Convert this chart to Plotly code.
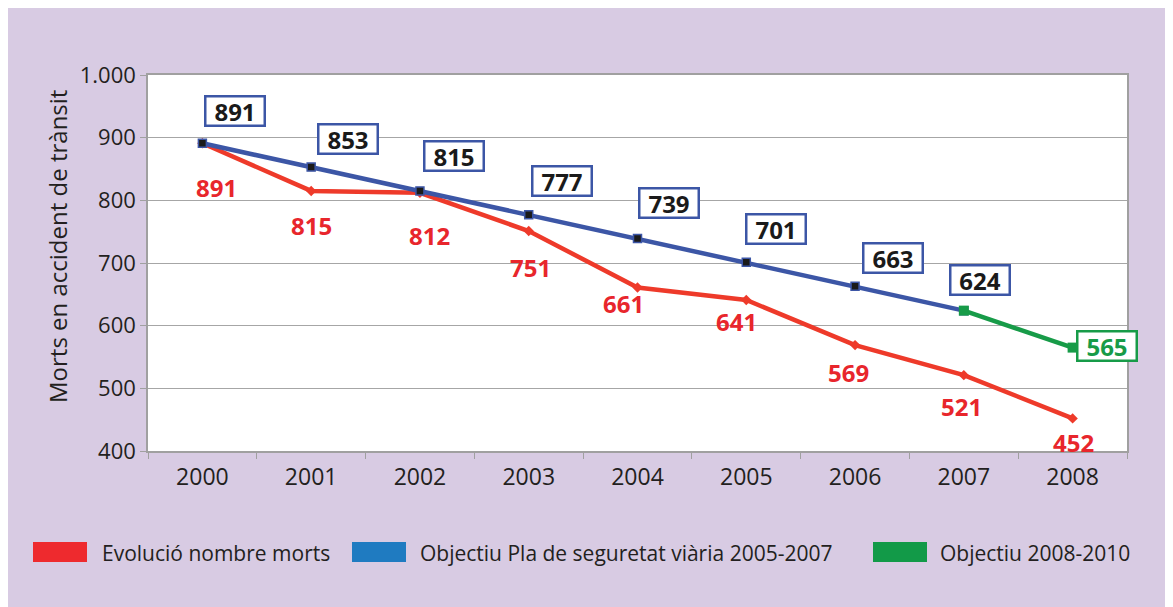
import plotly.graph_objects as go

# ---------------- data ----------------
years = ["2000", "2001", "2002", "2003", "2004", "2005", "2006", "2007", "2008"]
morts = [891, 815, 812, 751, 661, 641, 569, 521, 452]
obj_years = ["2000", "2001", "2002", "2003", "2004", "2005", "2006", "2007"]
objectiu_pla = [891, 853, 815, 777, 739, 701, 663, 624]
obj2_years = ["2007", "2008"]
objectiu_2010 = [624, 565]
y_ticks = [400, 500, 600, 700, 800, 900, 1000]
y_tick_labels = ["400", "500", "600", "700", "800", "900", "1.000"]
legend_names = ["Evolució nombre morts", "Objectiu Pla de seguretat viària 2005-2007", "Objectiu 2008-2010"]
y_title = "Morts en accident de trànsit"

# ---------------- styles ----------------
PURPLE = "#d8cbe3"
RED_LINE = "#ee3a2a"
RED_TXT = "#e8262c"
BLUE = "#3c56a6"
GREEN = "#179b48"
LEG_COLORS = ["#ee2a2e", "#1f7bc1", "#129a48"]
TXT = "#231f20"
FONT = "Open Sans"

# label offsets in pixels (dx, dy) relative to the point; dy positive = up
red_off = [(14, -44), (0, -35), (10, -43), (2, -36), (-14, -16), (-10, -22), (-7, -27), (-2, -31), (1, -24)]
blue_off = [(33, 32), (37, 28), (34, 35), (33, 34), (31, 36), (30, 33), (38, 28), (16, 31)]
green_off = [(34, 2)]

W, H = 1173, 607
L, R, T, B = 140, 1119, 67, 443   # plot area in figure pixels

fig = go.Figure()
fig.add_trace(go.Scatter(x=years, y=morts, mode="lines+markers", name=legend_names[0],
                         line=dict(color=RED_LINE, width=4.5),
                         marker=dict(symbol="diamond", size=8, color=RED_LINE),
                         showlegend=False, hoverinfo="x+y"))
fig.add_trace(go.Scatter(x=obj_years, y=objectiu_pla, mode="lines+markers", name=legend_names[1],
                         line=dict(color=BLUE, width=4.5),
                         marker=dict(symbol="square", size=8, color="#1a1a1a", line=dict(color=BLUE, width=1.5)),
                         showlegend=False, hoverinfo="x+y"))
fig.add_trace(go.Scatter(x=obj2_years, y=objectiu_2010, mode="lines+markers", name=legend_names[2],
                         line=dict(color=GREEN, width=4.5),
                         marker=dict(symbol="square", size=10, color=GREEN),
                         showlegend=False, hoverinfo="x+y"))

BOX = dict(width=57, height=27, borderwidth=2.5, borderpad=0, bgcolor="white")

ann = []
for i, (x, v) in enumerate(zip(years, morts)):
    dx, dy = red_off[i]
    ann.append(dict(x=years.index(x), y=v, xref="x", yref="y", text=f"<b>{v}</b>", showarrow=False,
                    xshift=dx, yshift=dy, font=dict(family=FONT, size=24, color=RED_TXT)))
for i, (x, v) in enumerate(zip(obj_years, objectiu_pla)):
    dx, dy = blue_off[i]
    ann.append(dict(x=years.index(x), y=v, xref="x", yref="y", text=f"<b>{v}</b>", showarrow=False,
                    xshift=dx, yshift=dy, font=dict(family=FONT, size=24, color="#1a1a1a"),
                    bordercolor=BLUE, **BOX))
x, v = obj2_years[-1], objectiu_2010[-1]
ann.append(dict(x=years.index(x), y=v, xref="x", yref="y", text=f"<b>{v}</b>", showarrow=False,
                xshift=green_off[0][0], yshift=green_off[0][1],
                font=dict(family=FONT, size=24, color=GREEN),
                bordercolor=GREEN, **BOX))

def px2x(px):
    return (px - L) / (R - L)

def px2y(py):
    return (B - py) / (B - T)

# y-axis title
ann.append(dict(x=px2x(49), y=px2y(239), xref="paper", yref="paper", text=y_title, textangle=-90,
                showarrow=False, xanchor="center", yanchor="middle",
                font=dict(family=FONT, size=24, color=TXT)))

# legend (swatches + text)
shapes = []
sw_x = [25, 344, 865]
txt_x = [92, 410, 930]
for i in range(3):
    shapes.append(dict(type="rect", xref="paper", yref="paper",
                       x0=px2x(sw_x[i]), x1=px2x(sw_x[i] + 54), y0=px2y(554), y1=px2y(534),
                       fillcolor=LEG_COLORS[i], line=dict(width=0)))
    ann.append(dict(x=px2x(txt_x[i]), y=px2y(545), xref="paper", yref="paper", text=legend_names[i],
                    showarrow=False, xanchor="left", yanchor="middle",
                    font=dict(family=FONT, size=21, color=TXT)))

fig.update_layout(
    width=W, height=H,
    margin=dict(l=L, r=W - R, t=T, b=H - B),
    paper_bgcolor=PURPLE, plot_bgcolor="white",
    font=dict(family=FONT, color=TXT),
    annotations=ann, shapes=shapes, showlegend=False,
    xaxis=dict(type="category", categoryorder="array", categoryarray=years,
               range=[-0.5, len(years) - 0.5], tickson="boundaries",
               ticks="outside", ticklen=6, tickcolor="#a0a0a0", ticklabelstandoff=5,
               showline=True, linecolor="#a0a0a0", linewidth=1.5, mirror=True,
               showgrid=False, tickfont=dict(family=FONT, size=23, color=TXT)),
    yaxis=dict(range=[400, 1000], tickvals=y_ticks, ticktext=y_tick_labels,
               ticks="outside", ticklen=6, tickcolor="#a0a0a0",
               showline=True, linecolor="#a0a0a0", linewidth=1.5, mirror=True,
               showgrid=True, gridcolor="#a6a6a6", gridwidth=1.2, zeroline=False,
               tickfont=dict(family=FONT, size=22, color=TXT)),
)

fig.write_html("out.html")
